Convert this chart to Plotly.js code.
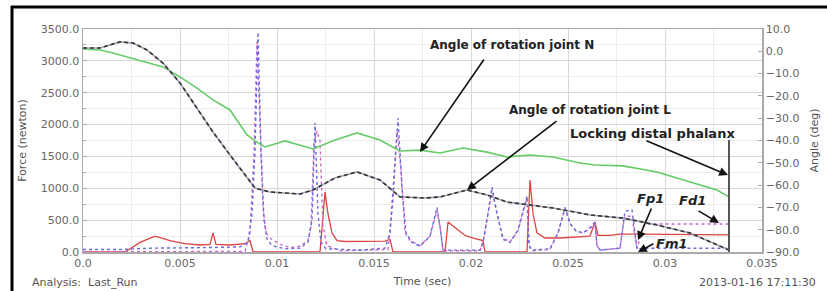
<!DOCTYPE html>
<html><head><meta charset="utf-8">
<script src="https://cdn.plot.ly/plotly-3.0.1.min.js"></script>
<style>html,body{margin:0;padding:0;background:#fff;} #chart{width:827px;height:291px;}</style>
</head><body><div id="chart"></div>
<script>
// ---- data (time in sec, force in newton, angle in deg) ----
const timeTickVals = [0, 0.005, 0.01, 0.015, 0.02, 0.025, 0.03, 0.035];
const timeTickText = ["0.0", "0.005", "0.01", "0.015", "0.02", "0.025", "0.03", "0.035"];

const tJointN = [0, 0.000876, 0.001546, 0.003299, 0.004124, 0.005, 0.005876, 0.006701, 0.007577, 0.008454, 0.008866, 0.009381, 0.010412, 0.011856, 0.01299, 0.014124, 0.015309, 0.01634, 0.017371, 0.018402, 0.019588, 0.020825, 0.021856, 0.023041, 0.024227, 0.025619, 0.026392, 0.027835, 0.029588, 0.031289, 0.03268, 0.033299];
const angleJointN = [1.0, 0.6, -0.8, -4.8, -7.0, -11.5, -16.5, -21.8, -26.3, -37.5, -40.2, -42.9, -40.2, -43.8, -39.8, -36.6, -39.8, -44.7, -44.3, -45.6, -43.4, -45.2, -47.4, -46.5, -47.4, -50.1, -51.0, -51.4, -54.1, -58.6, -62.2, -65.3];

const tJointL = [0, 0.000876, 0.001907, 0.002577, 0.003299, 0.004124, 0.005, 0.005876, 0.006701, 0.007577, 0.008454, 0.008866, 0.009226, 0.009638, 0.011186, 0.011856, 0.01299, 0.014124, 0.015309, 0.01634, 0.017628, 0.018402, 0.019794, 0.020825, 0.021856, 0.023041, 0.024227, 0.025619, 0.026134, 0.027835, 0.029588, 0.031289, 0.03299, 0.033299];
const angleJointL = [1.5, 1.5, 4.2, 3.7, 0.6, -5.3, -14.2, -25.4, -36.2, -46.5, -56.8, -61.3, -62.2, -63.1, -64.0, -62.2, -56.8, -54.1, -57.7, -65.3, -65.8, -65.3, -62.2, -64.4, -67.6, -68.9, -70.3, -72.5, -73.4, -74.8, -77.9, -81.5, -87.8, -89.1];

const tFp1 = [0, 0.002165, 0.002938, 0.003711, 0.004485, 0.005258, 0.006031, 0.006546, 0.006701, 0.006856, 0.007577, 0.008351, 0.008608, 0.008763, 0.012216, 0.012371, 0.012474, 0.012629, 0.012835, 0.013093, 0.013505, 0.015567, 0.015825, 0.015979, 0.01866, 0.018814, 0.019175, 0.019691, 0.020206, 0.020619, 0.020722, 0.022887, 0.023041, 0.023196, 0.023402, 0.023814, 0.024588, 0.025361, 0.026134, 0.026392, 0.026546, 0.027165, 0.02768, 0.028711, 0.031804, 0.033299];
const forceFp1 = [0, 0, 150, 250, 180, 130, 110, 120, 300, 120, 110, 130, 180, 0, 0, 600, 940, 600, 300, 180, 165, 170, 200, 0, 0, 470, 380, 260, 210, 180, 0, 0, 1130, 600, 300, 220, 220, 240, 250, 470, 260, 260, 280, 280, 275, 270];

const tFd1 = [0, 0.008351, 0.008608, 0.008814, 0.008969, 0.009124, 0.009278, 0.009433, 0.009639, 0.010155, 0.01067, 0.011186, 0.011598, 0.011753, 0.011907, 0.012062, 0.012216, 0.012371, 0.012577, 0.013247, 0.015722, 0.015979, 0.016186, 0.016392, 0.016598, 0.016856, 0.017371, 0.017887, 0.018247, 0.018402, 0.018557, 0.020464, 0.020619, 0.020876, 0.021082, 0.02134, 0.021649, 0.02201, 0.022423, 0.022887, 0.02299, 0.023144, 0.024072, 0.024485, 0.024845, 0.025103, 0.025412, 0.025773, 0.026134, 0.026392, 0.026495, 0.026649, 0.02768, 0.027835, 0.027938, 0.028299, 0.028557, 0.028866, 0.028969, 0.033299];
const forceFd1 = [0, 10, 300, 1500, 3300, 2000, 700, 300, 220, 120, 70, 90, 180, 400, 1700, 1900, 1750, 400, 100, 20, 40, 800, 1900, 1300, 300, 180, 100, 250, 650, 400, 20, 20, 150, 600, 980, 600, 220, 160, 330, 850, 100, 20, 40, 300, 680, 450, 330, 300, 370, 450, 100, 30, 60, 400, 560, 560, 50, 400, 440, 440];

const tFm1 = [0, 0.001907, 0.003454, 0.005, 0.006546, 0.008093, 0.008505, 0.008711, 0.008866, 0.009021, 0.009175, 0.00933, 0.009485, 0.009742, 0.010412, 0.011186, 0.011598, 0.011804, 0.011959, 0.012113, 0.012268, 0.012526, 0.014278, 0.015567, 0.015825, 0.016031, 0.016237, 0.016443, 0.016649, 0.016959, 0.017371, 0.017887, 0.018247, 0.018402, 0.018557, 0.020464, 0.020619, 0.020876, 0.021082, 0.02134, 0.021649, 0.02201, 0.022423, 0.022887, 0.02299, 0.023144, 0.024072, 0.024485, 0.024845, 0.025103, 0.025412, 0.025773, 0.026134, 0.026392, 0.026495, 0.026649, 0.02768, 0.027938, 0.028299, 0.028557, 0.028969, 0.033299];
const forceFm1 = [40, 40, 60, 60, 70, 80, 150, 600, 1600, 3450, 1600, 500, 200, 100, 50, 60, 150, 500, 2030, 600, 150, 50, 30, 60, 300, 1200, 2100, 1000, 300, 150, 90, 250, 700, 400, 30, 30, 150, 600, 1020, 600, 200, 150, 350, 880, 100, 30, 50, 300, 700, 450, 330, 300, 380, 470, 100, 30, 60, 640, 660, 50, 60, 60];

const lockTime = 0.03330;
const lockForce = 1760;

// ---- traces ----
const traces = [
  {x: tJointN, y: angleJointN, yaxis: 'y2', mode: 'lines', name: 'Angle joint N',
   line: {color: '#66cc66', width: 1.6}},
  {x: tJointL, y: angleJointL, yaxis: 'y2', mode: 'lines', name: 'Angle joint L base',
   line: {color: '#a4a4b8', width: 1.6}},
  {x: tJointL, y: angleJointL, yaxis: 'y2', mode: 'lines', name: 'Angle joint L',
   line: {color: '#333333', width: 1.6, dash: '4px,3px'}},
  {x: tFp1, y: forceFp1, mode: 'lines', name: 'Fp1',
   line: {color: '#dd4444', width: 1.3}},
  {x: tFd1, y: forceFd1, mode: 'lines', name: 'Fd1',
   line: {color: '#cc66cc', width: 1.4, dash: 'dot'}},
  {x: tFm1, y: forceFm1, mode: 'lines', name: 'Fm1',
   line: {color: '#6a6ad8', width: 1.4, dash: 'dot'}}
];

const F = 'DejaVu Sans, Verdana, sans-serif';
function px2paperX(p){ return (p - 83) / 679; }
function px2paperY(p){ return (252 - p) / 223; }

function label(px, py, text, font, xanchor){
  return {xref: 'paper', yref: 'paper', x: px2paperX(px), y: px2paperY(py), text: text,
          showarrow: false, xanchor: xanchor || 'center', yanchor: 'middle', font: font};
}
const boldFont = {family: F, size: 12, color: '#222', weight: 'bold'};
const italicFont = {family: F, size: 13, color: '#222', weight: 'bold', style: 'italic'};
const smallFont = {family: F, size: 11, color: '#555'};

const arrowBase = {showarrow: true, text: '', arrowhead: 2, arrowsize: 1.1, arrowwidth: 1.6, arrowcolor: '#111', axref: 'pixel', ayref: 'pixel'};
const layout = {
  width: 827, height: 291,
  margin: {l: 83, r: 65, t: 29, b: 39},
  paper_bgcolor: '#fff', plot_bgcolor: '#fff',
  showlegend: false,
  font: {family: F, size: 11, color: '#666'},
  xaxis: {
    range: [0, 0.035], tickvals: timeTickVals, ticktext: timeTickText,
    showgrid: true, gridcolor: '#d8d8d8', gridwidth: 1,
    minor: {dtick: 0.0025, showgrid: true, gridcolor: '#ececec'},
    showline: true, linecolor: '#aaaaaa', linewidth: 1.5, mirror: true,
    zeroline: false, ticks: '',
    title: {text: 'Time (sec)', font: smallFont, standoff: 8}
  },
  yaxis: {
    range: [0, 3500], dtick: 500, tickformat: '.1f',
    showgrid: true, gridcolor: '#d8d8d8',
    minor: {dtick: 250, showgrid: true, gridcolor: '#ececec', ticks: 'inside', ticklen: 3, tickcolor: '#aaa'},
    showline: true, linecolor: '#aaaaaa', linewidth: 1.5,
    zeroline: false, ticks: 'inside', ticklen: 4, tickcolor: '#aaa',
    title: {text: 'Force (newton)', font: smallFont, standoff: 12}
  },
  yaxis2: {
    range: [-90, 10], dtick: 10, tickformat: '.1f',
    overlaying: 'y', side: 'right', showgrid: false, zeroline: false,
    showline: true, linecolor: '#aaaaaa', linewidth: 1.5,
    ticks: 'inside', ticklen: 4, tickcolor: '#aaa',
    title: {text: 'Angle (deg)', font: smallFont, standoff: 12}
  },
  shapes: [
    {type: 'line', xref: 'paper', yref: 'paper', x0: px2paperX(11), x1: px2paperX(827), y0: px2paperY(7), y1: px2paperY(7), line: {color: '#000', width: 3}},
    {type: 'line', xref: 'paper', yref: 'paper', x0: px2paperX(12), x1: px2paperX(12), y0: px2paperY(6), y1: px2paperY(291), line: {color: '#000', width: 3}},
    {type: 'line', xref: 'x', yref: 'y', x0: lockTime, x1: lockTime, y0: 0, y1: lockForce, line: {color: '#555', width: 2}}
  ],
  annotations: [
    label(512, 45, 'Angle of rotation joint N', boldFont),
    label(590, 110, 'Angle of rotation joint L', boldFont),
    label(652, 133, 'Locking distal phalanx', {family: F, size: 13, color: '#222', weight: 'bold'}),
    label(650, 198, 'Fp1', italicFont),
    label(692, 200, 'Fd1', italicFont),
    label(671, 243, 'Fm1', italicFont),
    label(30, 282, 'Analysis:  Last_Run', smallFont, 'left'),
    label(818, 282, '2013-01-16 17:11:30', smallFont, 'right'),
    Object.assign({xref: 'x', yref: 'y', x: 0.017371, y: 1570, ax: 65, ay: -94}, arrowBase),
    Object.assign({xref: 'x', yref: 'y', x: 0.019794, y: 973, ax: 91, ay: -70}, arrowBase),
    Object.assign({xref: 'x', yref: 'y', x: 0.033247, y: 1208, ax: -83, ay: -35}, arrowBase),
    Object.assign({xref: 'x', yref: 'y', x: 0.028608, y: 188, ax: 14, ay: -33}, arrowBase),
    Object.assign({xref: 'x', yref: 'y', x: 0.032784, y: 455, ax: -22, ay: -13}, arrowBase),
    Object.assign({xref: 'x', yref: 'y', x: 0.028608, y: 0, ax: 17, ay: -9}, arrowBase)
  ]
};

Plotly.newPlot('chart', traces, layout, {staticPlot: true, displayModeBar: false});
</script>
</body></html>
